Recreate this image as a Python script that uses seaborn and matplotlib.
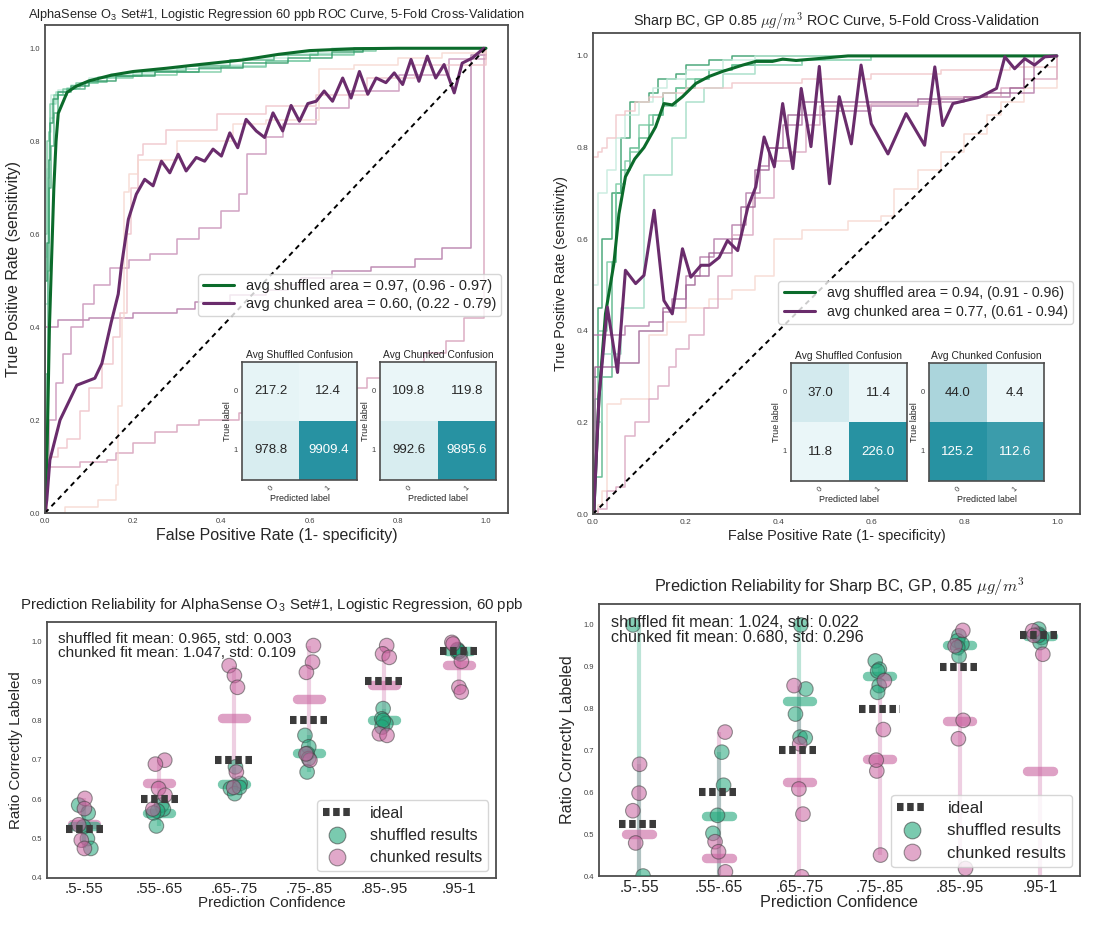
import numpy as np
import pandas as pd
import matplotlib
matplotlib.use('Agg')
import matplotlib.pyplot as plt
from matplotlib.lines import Line2D
import seaborn as sns

sns.set_style('white')
plt.rcParams['font.family'] = ['Liberation Sans', 'DejaVu Sans']
plt.rcParams['mathtext.fontset'] = 'cm'

# ---------------- ROC data (fpr, tpr vertices) ----------------
# top-left: AlphaSense O3, logistic regression
tl_shuf_folds = [
    [(0, 0), (0, 0.55), (0.004, 0.55), (0.004, 0.74), (0.008, 0.75), (0.008, 0.82), (0.014, 0.83), (0.014, 0.9),
     (0.03, 0.91), (0.06, 0.92), (0.1, 0.935), (0.15, 0.945), (0.25, 0.955), (0.35, 0.965), (0.45, 0.978),
     (0.55, 0.99), (0.65, 1.0), (1, 1)],
    [(0, 0), (0, 0.45), (0.006, 0.5), (0.006, 0.72), (0.01, 0.76), (0.012, 0.85), (0.02, 0.88), (0.025, 0.905),
     (0.05, 0.915), (0.08, 0.925), (0.12, 0.938), (0.2, 0.948), (0.3, 0.955), (0.4, 0.962), (0.5, 0.972),
     (0.6, 0.988), (0.7, 1.0), (1, 1)],
    [(0, 0), (0, 0.6), (0.005, 0.62), (0.005, 0.8), (0.01, 0.82), (0.012, 0.88), (0.02, 0.9), (0.04, 0.912),
     (0.07, 0.925), (0.12, 0.935), (0.2, 0.942), (0.3, 0.95), (0.4, 0.96), (0.5, 0.972), (0.6, 0.985),
     (0.7, 0.995), (0.75, 1.0), (1, 1)],
    [(0, 0), (0.002, 0.3), (0.006, 0.52), (0.01, 0.7), (0.014, 0.79), (0.02, 0.86), (0.03, 0.9), (0.05, 0.913),
     (0.09, 0.928), (0.14, 0.94), (0.22, 0.951), (0.32, 0.962), (0.42, 0.974), (0.52, 0.986), (0.62, 0.996),
     (0.7, 1.0), (1, 1)],
    [(0, 0), (0, 0.5), (0.004, 0.58), (0.008, 0.76), (0.012, 0.84), (0.018, 0.89), (0.03, 0.905), (0.06, 0.918),
     (0.1, 0.93), (0.16, 0.94), (0.25, 0.95), (0.35, 0.958), (0.45, 0.968), (0.55, 0.98), (0.65, 0.993),
     (0.72, 1.0), (1, 1)],
]
tl_chunk_folds = [
    [(0, 0), (0, 0.4), (0.03, 0.4), (0.03, 0.415), (0.1, 0.42), (0.2, 0.43), (0.3, 0.44), (0.34, 0.455),
     (0.42, 0.47), (0.5, 0.48), (0.55, 0.49), (0.58, 0.506), (0.65, 0.52), (0.74, 0.53), (0.84, 0.547),
     (0.9, 0.57), (0.965, 0.586), (0.965, 0.985), (1, 1)],
    [(0, 0), (0, 0.1), (0.08, 0.1), (0.08, 0.11), (0.14, 0.115), (0.16, 0.13), (0.2, 0.15), (0.25, 0.175),
     (0.3, 0.19), (0.35, 0.2), (0.44, 0.215), (0.55, 0.24), (0.65, 0.27), (0.73, 0.29), (0.8, 0.32),
     (0.86, 0.345), (0.91, 0.37), (0.95, 0.42), (0.995, 0.46), (0.995, 1.0), (1, 1)],
    [(0, 0), (0.005, 0.1), (0.01, 0.2), (0.025, 0.28), (0.04, 0.343), (0.06, 0.4), (0.086, 0.45), (0.11, 0.49),
     (0.147, 0.528), (0.19, 0.545), (0.238, 0.558), (0.3, 0.59), (0.35, 0.614), (0.4, 0.65), (0.44, 0.687),
     (0.457, 0.772), (0.5, 0.81), (0.539, 0.836), (0.615, 0.872), (0.69, 0.908), (0.803, 0.943),
     (0.916, 0.976), (1, 1)],
    [(0, 0), (0.005, 0.12), (0.03, 0.14), (0.05, 0.16), (0.08, 0.22), (0.1, 0.27), (0.13, 0.32), (0.154, 0.378),
     (0.17, 0.43), (0.185, 0.6), (0.195, 0.7), (0.21, 0.77), (0.222, 0.794), (0.275, 0.825), (0.39, 0.858),
     (0.5, 0.876), (0.615, 0.9), (0.73, 0.936), (0.84, 0.965), (1, 0.993), (1, 1)],
    [(0, 0), (0.045, 0.013), (0.12, 0.028), (0.16, 0.06), (0.165, 0.23), (0.175, 0.42), (0.18, 0.69),
     (0.19, 0.73), (0.21, 0.76), (0.3, 0.8), (0.426, 0.836), (0.5, 0.845), (0.622, 0.858), (0.622, 0.955),
     (0.7, 0.965), (0.8, 0.98), (0.9, 0.99), (1, 1)],
]
tl_shuf_mean_fpr = [0, 0.005, 0.01, 0.015, 0.02, 0.025, 0.03, 0.05, 0.07, 0.1, 0.15, 0.2, 0.275, 0.35, 0.45,
                    0.53, 0.6, 0.7, 0.8, 1.0]
tl_shuf_mean_tpr = [0, 0.15, 0.4, 0.55, 0.7, 0.8, 0.86, 0.905, 0.918, 0.93, 0.942, 0.95, 0.957, 0.965, 0.975,
                    0.987, 0.995, 0.999, 1.0, 1.0]
tl_chunk_mean_fpr = [0, 0.004, 0.011, 0.034, 0.072, 0.113, 0.129, 0.15, 0.166, 0.173, 0.189, 0.207, 0.226,
                     0.245, 0.264, 0.283, 0.302, 0.32, 0.343, 0.362, 0.381, 0.4, 0.419, 0.437, 0.456, 0.479,
                     0.498, 0.517, 0.539, 0.558, 0.577, 0.596, 0.615, 0.633, 0.652, 0.675, 0.694, 0.713, 0.732,
                     0.751, 0.773, 0.792, 0.811, 0.83, 0.848, 0.867, 0.886, 0.905, 0.928, 0.946, 0.969, 0.995]
tl_chunk_mean_tpr = [0, 0.028, 0.114, 0.2, 0.275, 0.29, 0.322, 0.41, 0.471, 0.53, 0.632, 0.686, 0.718, 0.704,
                     0.757, 0.732, 0.772, 0.736, 0.765, 0.757, 0.783, 0.768, 0.818, 0.786, 0.847, 0.822, 0.808,
                     0.861, 0.822, 0.877, 0.843, 0.881, 0.886, 0.908, 0.886, 0.936, 0.893, 0.95, 0.901, 0.936,
                     0.926, 0.947, 0.922, 0.976, 0.929, 0.983, 0.936, 0.965, 0.904, 0.968, 0.979, 1.0]

# top-right: Sharp BC, GP
tr_shuf_folds = [
    [(0, 0), (0, 0.3), (0.01, 0.3), (0.01, 0.45), (0.02, 0.45), (0.02, 0.6), (0.04, 0.62), (0.04, 0.7),
     (0.06, 0.73), (0.06, 0.82), (0.08, 0.85), (0.08, 0.9), (0.12, 0.92), (0.14, 0.95), (0.18, 0.96),
     (0.2, 0.98), (0.25, 0.99), (0.3, 1.0), (1, 1)],
    [(0, 0), (0, 0.08), (0.02, 0.08), (0.02, 0.3), (0.04, 0.3), (0.04, 0.55), (0.05, 0.62), (0.05, 0.7),
     (0.06, 0.75), (0.08, 0.76), (0.08, 0.8), (0.1, 0.82), (0.12, 0.85), (0.13, 0.87), (0.15, 0.88),
     (0.15, 0.92), (0.18, 0.93), (0.22, 0.95), (0.25, 0.97), (0.3, 0.98), (0.35, 0.99), (0.5, 1.0), (1, 1)],
    [(0, 0), (0.005, 0.25), (0.01, 0.4), (0.03, 0.45), (0.03, 0.55), (0.05, 0.72), (0.07, 0.77), (0.08, 0.79),
     (0.1, 0.8), (0.1, 0.85), (0.12, 0.87), (0.15, 0.89), (0.18, 0.93), (0.2, 0.95), (0.25, 0.97),
     (0.3, 0.98), (0.45, 0.99), (0.6, 1.0), (1, 1)],
    [(0, 0), (0, 0.2), (0.02, 0.2), (0.02, 0.35), (0.06, 0.35), (0.06, 0.45), (0.11, 0.45), (0.11, 0.74),
     (0.17, 0.74), (0.17, 0.82), (0.2, 0.85), (0.2, 0.9), (0.24, 0.93), (0.28, 0.96), (0.35, 0.98),
     (0.45, 0.99), (0.6, 1.0), (1, 1)],
    [(0, 0), (0, 0.5), (0.01, 0.55), (0.01, 0.7), (0.03, 0.75), (0.05, 0.82), (0.07, 0.87), (0.1, 0.9),
     (0.13, 0.93), (0.16, 0.95), (0.2, 0.97), (0.28, 0.99), (0.35, 1.0), (1, 1)],
]
tr_chunk_folds = [
    [(0, 0), (0, 0.78), (0.01, 0.79), (0.02, 0.8), (0.03, 0.82), (0.05, 0.84), (0.05, 0.87), (0.07, 0.88),
     (0.09, 0.9), (0.12, 0.91), (0.15, 0.92), (0.2, 0.93), (0.3, 0.94), (0.45, 0.95), (0.6, 0.96),
     (0.75, 0.97), (0.9, 0.975), (1.0, 0.98), (1, 1)],
    [(0, 0), (0.01, 0.02), (0.02, 0.05), (0.03, 0.24), (0.06, 0.25), (0.12, 0.26), (0.12, 0.39), (0.16, 0.42),
     (0.2, 0.45), (0.25, 0.47), (0.3, 0.49), (0.35, 0.52), (0.39, 0.6), (0.45, 0.62), (0.55, 0.64),
     (0.62, 0.65), (0.65, 0.71), (0.7, 0.75), (0.75, 0.79), (0.8, 0.83), (0.85, 0.87), (0.88, 0.9),
     (0.93, 0.93), (1.0, 0.97), (1, 1)],
    [(0, 0), (0, 0.39), (0.07, 0.39), (0.07, 0.41), (0.12, 0.42), (0.15, 0.44), (0.17, 0.47), (0.2, 0.52),
     (0.23, 0.56), (0.26, 0.6), (0.3, 0.63), (0.33, 0.7), (0.36, 0.76), (0.38, 0.8), (0.41, 0.85),
     (0.45, 0.87), (0.5, 0.88), (0.6, 0.89), (0.7, 0.9), (0.8, 0.91), (0.9, 0.92), (0.95, 0.93),
     (0.95, 1.0), (1, 1)],
    [(0, 0), (0.01, 0.01), (0.03, 0.05), (0.05, 0.06), (0.07, 0.17), (0.09, 0.2), (0.12, 0.25), (0.14, 0.28),
     (0.164, 0.32), (0.18, 0.36), (0.207, 0.39), (0.24, 0.45), (0.27, 0.52), (0.3, 0.61), (0.344, 0.69),
     (0.39, 0.77), (0.43, 0.79), (0.46, 0.85), (0.49, 0.89), (0.6, 0.895), (0.75, 0.91), (0.88, 0.93),
     (0.93, 0.95), (1, 1)],
    [(0, 0), (0.005, 0.32), (0.05, 0.33), (0.1, 0.4), (0.15, 0.45), (0.2, 0.5), (0.22, 0.52), (0.25, 0.57),
     (0.3, 0.6), (0.32, 0.67), (0.35, 0.75), (0.38, 0.8), (0.42, 0.87), (0.45, 0.9), (0.5, 0.9), (0.6, 0.9),
     (0.7, 0.905), (0.8, 0.91), (0.85, 0.92), (0.9, 0.93), (0.93, 0.94), (0.93, 1.0), (1, 1)],
]
tr_shuf_mean_fpr = [0, 0.002, 0.013, 0.027, 0.045, 0.056, 0.07, 0.09, 0.11, 0.135, 0.153, 0.171, 0.193, 0.222,
                    0.25, 0.279, 0.323, 0.351, 0.387, 0.409, 0.438, 0.495, 0.55, 1.0]
tr_shuf_mean_tpr = [0, 0.007, 0.255, 0.437, 0.546, 0.655, 0.736, 0.775, 0.8, 0.845, 0.896, 0.893, 0.911, 0.94,
                    0.955, 0.966, 0.98, 0.988, 0.988, 0.993, 0.99, 0.995, 1.0, 1.0]
tr_chunk_mean_fpr = [0, 0.002, 0.013, 0.031, 0.053, 0.07, 0.092, 0.11, 0.132, 0.153, 0.171, 0.193, 0.211,
                     0.233, 0.251, 0.272, 0.29, 0.312, 0.334, 0.351, 0.369, 0.391, 0.409, 0.431, 0.449, 0.47,
                     0.488, 0.51, 0.531, 0.557, 0.578, 0.6, 0.636, 0.675, 0.715, 0.737, 0.754, 0.776, 0.834,
                     0.87, 0.888, 0.909, 0.931, 0.952, 0.974, 1.0]
tr_chunk_mean_tpr = [0, 0.007, 0.255, 0.452, 0.309, 0.532, 0.503, 0.521, 0.663, 0.466, 0.437, 0.579, 0.517,
                     0.543, 0.543, 0.56, 0.597, 0.575, 0.67, 0.714, 0.823, 0.758, 0.896, 0.754, 0.929, 0.802,
                     0.977, 0.721, 0.911, 0.808, 0.98, 0.852, 0.786, 0.874, 0.805, 0.976, 0.848, 0.896, 0.91,
                     0.929, 0.998, 0.972, 0.994, 0.98, 0.998, 1.0]

# averaged confusion matrices
tl_shuf_conf = [[217.2, 12.4], [978.8, 9909.4]]
tl_chunk_conf = [[109.8, 119.8], [992.6, 9895.6]]
tr_shuf_conf = [[37.0, 11.4], [11.8, 226.0]]
tr_chunk_conf = [[44.0, 4.4], [125.2, 112.6]]

# ---------------- reliability data ----------------
bins = ['.5-.55', '.55-.65', '.65-.75', '.75-.85', '.85-.95', '.95-1']
ideal = [0.525, 0.6, 0.7, 0.8, 0.9, 0.975]

bl_shuf_pts = [[0.585, 0.565, 0.53, 0.50, 0.475], [0.585, 0.575, 0.57, 0.565, 0.532],
               [0.682, 0.64, 0.627, 0.614, 0.63], [0.762, 0.733, 0.716, 0.703, 0.669],
               [0.83, 0.804, 0.792, 0.783, 0.80], [0.98, 0.973, 0.969, 0.975, 0.978]]
bl_chunk_pts = [[0.602, 0.576, 0.535, 0.496, 0.475], [0.699, 0.689, 0.627, 0.61, 0.575],
                [0.939, 0.914, 0.884, 0.669, 0.63], [0.99, 0.948, 0.922, 0.699, 0.715],
                [0.99, 0.969, 0.96, 0.766, 0.762], [0.998, 0.994, 0.95, 0.884, 0.872]]
br_shuf_pts = [[1.0, 0.4, 0.3, 0.0, 0.0], [0.696, 0.617, 0.545, 0.502, 0.355],
               [1.0, 0.847, 0.787, 0.732, 0.73], [0.914, 0.894, 0.89, 0.855, 0.839],
               [0.974, 0.962, 0.954, 0.946, 0.926], [0.99, 0.978, 0.97, 0.958, 0.975]]
br_chunk_pts = [[0.667, 0.598, 0.556, 0.479, 0.2], [0.744, 0.482, 0.458, 0.41, 0.126],
                [0.855, 0.716, 0.548, 0.398, 0.608], [0.867, 0.75, 0.651, 0.45, 0.677],
                [0.987, 0.728, 0.418, 0.95, 0.772], [0.986, 0.975, 0.93, 0.3, 0.069]]

GREEN = '#22a77b'
PINK = '#c9629f'
SHUF_MEAN = '#0b6b2b'
CHUNK_MEAN = '#6a2c6c'
IDEAL_LS = (0, (0.81, 0.45))


def style_frame(ax, lw=1.3):
    for s in ax.spines.values():
        s.set_visible(True)
        s.set_color('0.3')
        s.set_linewidth(lw)


def draw_roc(ax, shuf_folds, chunk_folds, shuf_mean, chunk_mean, shuf_cols, chunk_cols,
             title, title_size, label_size, tick_size):
    for fold, col in zip(shuf_folds, shuf_cols):
        f = pd.DataFrame(fold, columns=['fpr', 'tpr'])
        sns.lineplot(data=f, x='fpr', y='tpr', sort=False, estimator=None, ax=ax, color=col,
                     lw=1.1, alpha=0.85, drawstyle='steps-post')
    for fold, col in zip(chunk_folds, chunk_cols):
        f = pd.DataFrame(fold, columns=['fpr', 'tpr'])
        sns.lineplot(data=f, x='fpr', y='tpr', sort=False, estimator=None, ax=ax, color=col,
                     lw=1.1, alpha=0.85, drawstyle='steps-post')
    sns.lineplot(x=shuf_mean[0], y=shuf_mean[1], sort=False, estimator=None, ax=ax,
                 color=SHUF_MEAN, lw=2.2, label=shuf_mean[2])
    sns.lineplot(x=chunk_mean[0], y=chunk_mean[1], sort=False, estimator=None, ax=ax,
                 color=CHUNK_MEAN, lw=2.2, label=chunk_mean[2])
    ax.plot([0, 1], [0, 1], color='k', lw=1.4, ls=(0, (2.6, 2.2)))
    ax.set_xlim(0, 1.05)
    ax.set_ylim(0, 1.05)
    ax.set_xticks(np.arange(0, 1.01, 0.2))
    ax.set_yticks(np.arange(0, 1.01, 0.2))
    ax.tick_params(labelsize=tick_size, labelcolor='0.25', length=0)
    ax.set_xlabel('False Positive Rate (1- specificity)', fontsize=label_size, labelpad=2)
    ax.set_ylabel('True Positive Rate (sensitivity)', fontsize=label_size, labelpad=6)
    ax.set_title(title, fontsize=title_size, pad=5)
    style_frame(ax)


def draw_conf(ax, conf, title):
    cmap = sns.blend_palette(['#eaf6f8', '#2792a2'], as_cmap=True)
    sns.heatmap(np.array(conf), annot=True, fmt='.1f', cmap=cmap, cbar=False, ax=ax,
                annot_kws={'size': 9.5}, xticklabels=['0', '1'], yticklabels=['0', '1'])
    ax.set_title(title, fontsize=7.4, pad=3)
    ax.set_xlabel('Predicted label', fontsize=6.5, labelpad=1)
    ax.set_ylabel('True label', fontsize=6.5, labelpad=1)
    ax.tick_params(labelsize=5.5, labelcolor='0.25', length=0, pad=3)
    plt.setp(ax.get_xticklabels(), rotation=45)
    plt.setp(ax.get_yticklabels(), rotation=0)
    style_frame(ax, lw=1.2)


def draw_reliability(ax, shuf_pts, chunk_pts, title, note, sizes, leg_anchor):
    title_size, note_size, label_size, tick_size, leg_size = sizes
    pos = np.arange(len(bins))
    rows = []
    for b, s, c in zip(bins, shuf_pts, chunk_pts):
        rows += [(b, v, 'shuffled') for v in s]
        rows += [(b, v, 'chunked') for v in c]
    df = pd.DataFrame(rows, columns=['bin', 'ratio', 'kind'])

    # min-max range and mean of each bin
    for pts, col in [(chunk_pts, PINK), (shuf_pts, GREEN)]:
        lo = [min(p) for p in pts]
        hi = [max(p) for p in pts]
        ax.vlines(pos, lo, hi, color=col, lw=3, alpha=0.3, zorder=1)
    for pts, col in [(chunk_pts, PINK), (shuf_pts, GREEN)]:
        for x, p in zip(pos, pts):
            m = np.mean(p)
            ax.plot([x - 0.16, x + 0.16], [m, m], color=col, lw=6.8, alpha=0.6,
                    solid_capstyle='round', zorder=2)

    np.random.seed(7)
    sns.stripplot(data=df, x='bin', y='ratio', hue='kind', order=bins,
                  hue_order=['shuffled', 'chunked'], palette={'shuffled': GREEN, 'chunked': PINK},
                  size=10.5, alpha=0.55, jitter=0.09, edgecolor='0.25', linewidth=0.8,
                  legend=False, ax=ax, zorder=3)

    for x, v in zip(pos, ideal):
        ax.plot([x - 0.25, x + 0.25], [v, v], color='#3b3b3b', lw=5.8, ls=IDEAL_LS,
                dash_capstyle='butt', zorder=4)

    ax.set_xlim(-0.5, len(bins) - 0.5)
    ax.set_ylim(0.4, 1.05)
    ax.set_yticks(np.arange(0.4, 1.01, 0.1))
    ax.tick_params(axis='y', labelsize=5.5, labelcolor='0.25', length=0)
    ax.tick_params(axis='x', labelsize=tick_size, length=0, pad=3)
    ax.set_xlabel('Prediction Confidence', fontsize=label_size, labelpad=0)
    ax.set_ylabel('Ratio Correctly Labeled', fontsize=label_size, labelpad=6)
    ax.set_title(title, fontsize=title_size, pad=9)
    ax.text(0.024, 0.96, note, transform=ax.transAxes, ha='left', va='top',
            fontsize=note_size, linespacing=1.0)

    handles = [
        Line2D([], [], color='#3b3b3b', lw=5.8, ls=IDEAL_LS, dash_capstyle='butt'),
        Line2D([], [], ls='', marker='o', ms=12, mfc=GREEN, mec='0.25', mew=0.8, alpha=0.6),
        Line2D([], [], ls='', marker='o', ms=12, mfc=PINK, mec='0.25', mew=0.8, alpha=0.55),
    ]
    ax.legend(handles, ['ideal', 'shuffled results', 'chunked results'], loc='lower right',
              bbox_to_anchor=leg_anchor, fontsize=leg_size, frameon=True, handlelength=1.75,
              handletextpad=1.2, borderpad=0.35, labelspacing=0.45, borderaxespad=0)
    style_frame(ax)


fig = plt.figure(figsize=(10.93, 9.27), dpi=100)

ax_tl = fig.add_axes([0.0412, 0.4466, 0.4236, 0.5264])
ax_tr = fig.add_axes([0.5425, 0.4455, 0.4456, 0.5189])
ax_bl = fig.add_axes([0.043, 0.0529, 0.4108, 0.2762])
ax_br = fig.add_axes([0.548, 0.055, 0.44, 0.2934])

tl_chunk_cols = ['#b47ba8', '#d7a0ba', '#c992b8', '#efc2c9', '#f6d8d0']
tr_chunk_cols = ['#f1c6c8', '#f7d8d0', '#b47ba8', '#d9a6bf', '#a06494']
shuf_cols = ['#c4ebdc', '#9edbc3', '#74c8a0', '#4fb282', '#2f9a66']

draw_roc(ax_tl, tl_shuf_folds, tl_chunk_folds,
         (tl_shuf_mean_fpr, tl_shuf_mean_tpr, 'avg shuffled area = 0.97, (0.96 - 0.97)'),
         (tl_chunk_mean_fpr, tl_chunk_mean_tpr, 'avg chunked area = 0.60, (0.22 - 0.79)'),
         shuf_cols, tl_chunk_cols,
         'AlphaSense O$_\\mathregular{3}$ Set#1, Logistic Regression 60 ppb ROC Curve, 5-Fold Cross-Validation',
         9.2, 11.5, 5.5)
ax_tl.legend(loc='upper right', bbox_to_anchor=(0.985, 0.49), fontsize=10.5, borderaxespad=0,
             handlelength=2.1, labelspacing=0.25, borderpad=0.35, frameon=True)

draw_roc(ax_tr, tr_shuf_folds, tr_chunk_folds,
         (tr_shuf_mean_fpr, tr_shuf_mean_tpr, 'avg shuffled area = 0.94, (0.91 - 0.96)'),
         (tr_chunk_mean_fpr, tr_chunk_mean_tpr, 'avg chunked area = 0.77, (0.61 - 0.94)'),
         shuf_cols[::-1], tr_chunk_cols,
         'Sharp BC, GP 0.85 $\\mu g/m^3$ ROC Curve, 5-Fold Cross-Validation', 10.4, 10.4, 6)
ax_tr.legend(loc='upper right', bbox_to_anchor=(0.986, 0.485), fontsize=10.2, borderaxespad=0,
             handlelength=2.2, labelspacing=0.3, borderpad=0.4, frameon=True)

ins = [([0.2214, 0.4822, 0.1052, 0.1273], tl_shuf_conf, 'Avg Shuffled Confusion'),
       ([0.3477, 0.4822, 0.1061, 0.1273], tl_chunk_conf, 'Avg Chunked Confusion'),
       ([0.7237, 0.4811, 0.1061, 0.1273], tr_shuf_conf, 'Avg Shuffled Confusion'),
       ([0.8500, 0.4811, 0.1052, 0.1273], tr_chunk_conf, 'Avg Chunked Confusion')]
for rect, conf, title in ins:
    draw_conf(fig.add_axes(rect), conf, title)

draw_reliability(ax_bl, bl_shuf_pts, bl_chunk_pts,
                 'Prediction Reliability for AlphaSense O$_\\mathregular{3}$ Set#1, Logistic Regression, 60 ppb',
                 'shuffled fit mean: 0.965, std: 0.003\nchunked fit mean: 1.047, std: 0.109',
                 (10.8, 11, 10.9, 11, 11.5), (0.982, 0.027))
draw_reliability(ax_br, br_shuf_pts, br_chunk_pts,
                 'Prediction Reliability for Sharp BC, GP, 0.85 $\\mu g/m^3$',
                 'shuffled fit mean: 1.024, std: 0.022\nchunked fit mean: 0.680, std: 0.296',
                 (11.7, 11.6, 11.6, 11.2, 12.2), (0.984, 0.033))

fig.savefig('out.png', dpi=100)
